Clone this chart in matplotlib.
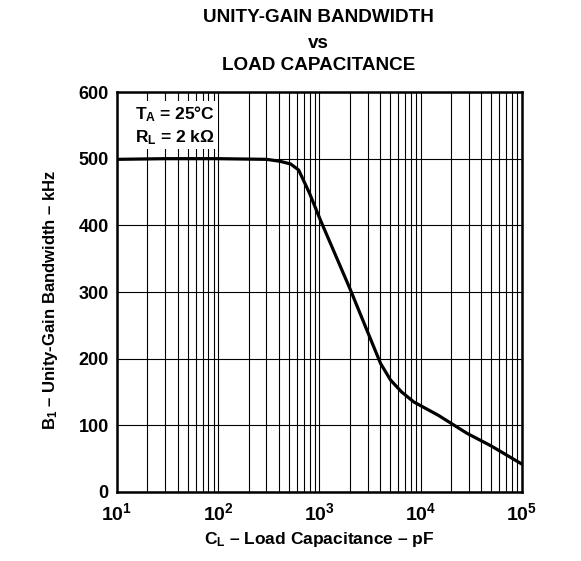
from matplotlib import pyplot as plt
import numpy as np

plt.rcParams['font.family'] = ['Liberation Sans', 'DejaVu Sans']
plt.rcParams['mathtext.fontset'] = 'custom'
plt.rcParams['mathtext.rm'] = 'Liberation Sans:bold'
plt.rcParams['mathtext.it'] = 'Liberation Sans:bold'
plt.rcParams['mathtext.bf'] = 'Liberation Sans:bold'

# load capacitance (pF) and unity-gain bandwidth (kHz)
cap_pf = [10, 30, 100, 300, 411, 520, 624, 800, 1023, 1400, 2030, 3000, 4020,
          5050, 6500, 8590, 15000, 28800, 50000, 100000]
bw_khz = [499, 500, 500, 499, 496, 492, 483, 448, 408, 360, 303, 240, 193,
          168, 150, 135, 115, 88, 69, 42]

y_ticks = [0, 100, 200, 300, 400, 500, 600]
x_ticks = [1e1, 1e2, 1e3, 1e4, 1e5]
x_tick_labels = ['$10^1$', '$10^2$', '$10^3$', '$10^4$', '$10^5$']

fig = plt.figure(figsize=(5.81, 5.61), dpi=100)
ax = fig.add_axes([0.2014, 0.123, 0.6966, 0.713])

ax.plot(cap_pf, bw_khz, color='black', linewidth=2.3, zorder=3)

ax.set_xscale('log')
ax.set_xlim(10, 1e5)
ax.set_ylim(0, 600)
ax.set_yticks(y_ticks)
ax.set_yticklabels([str(v) for v in y_ticks], fontsize=13, fontweight='bold')
ax.set_xticks(x_ticks)
ax.set_xticklabels(x_tick_labels, fontsize=14)
ax.tick_params(axis='y', which='both', length=0, pad=6)
ax.tick_params(axis='x', which='both', length=0, pad=7)

ax.grid(True, which='major', color='black', linewidth=0.8)
ax.grid(True, which='minor', axis='x', color='black', linewidth=0.8)
for s in ax.spines.values():
    s.set_linewidth(1.8)

ax.set_xlabel('$C_L$ – Load Capacitance – pF', fontsize=12.5, fontweight='bold')
ax.set_ylabel('$B_1$ – Unity-Gain Bandwidth – kHz', fontsize=12, fontweight='bold')
ax.xaxis.set_label_coords(0.5, -0.095)
ax.yaxis.set_label_coords(-0.14, 0.48)

fig.text(0.548, 0.968, 'UNITY-GAIN BANDWIDTH', ha='center', va='center',
         fontsize=13.6, fontweight='bold')
fig.text(0.548, 0.923, 'vs', ha='center', va='center', fontsize=13.6, fontweight='bold')
fig.text(0.548, 0.884, 'LOAD CAPACITANCE', ha='center', va='center',
         fontsize=13.6, fontweight='bold')

ax.text(0.045, 0.97, '$T_A$ = 25°C\n$R_L$ = 2 kΩ', transform=ax.transAxes,
        ha='left', va='top', fontsize=12.5, fontweight='bold', linespacing=1.3,
        bbox=dict(facecolor='white', edgecolor='none', pad=2), zorder=4)

fig.savefig('out.png', dpi=100)
